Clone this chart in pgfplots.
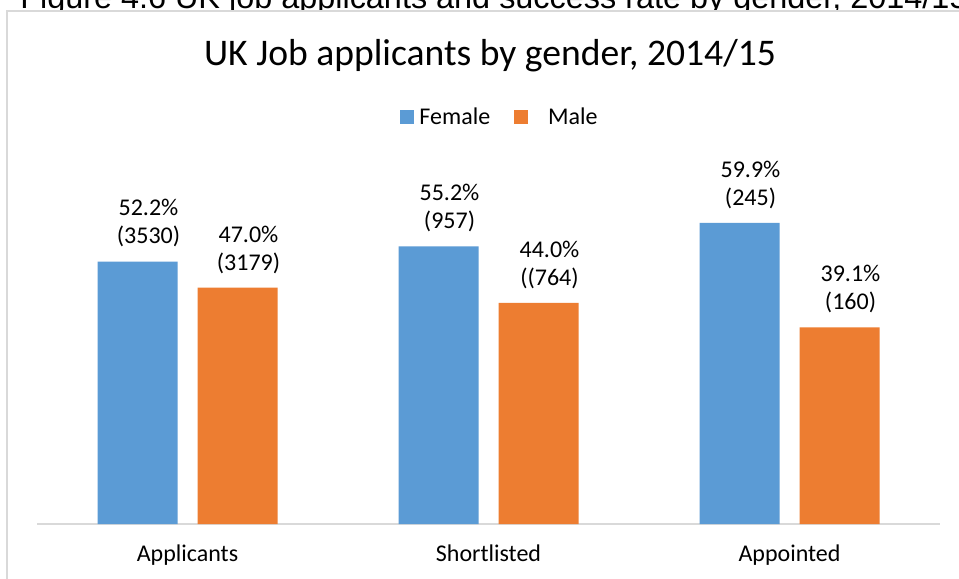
\documentclass[border=0pt]{standalone}
\usepackage{pgfplots}
\pgfplotsset{compat=1.18}
\usepackage{fontspec}
\setmainfont{Carlito}
\newfontfamily\capfont{Liberation Sans}
\definecolor{fem}{HTML}{5B9BD5}
\definecolor{mal}{HTML}{ED7D31}
\definecolor{gridg}{HTML}{D9D9D9}
\begin{document}
\begin{tikzpicture}
% caption partly cut by the page edge
\node[anchor=base west, inner sep=0pt, font=\capfont\fontsize{24.3}{28}\selectfont] at (15pt,-6pt) {Figure 4.6 UK job applicants and success rate by gender, 2014/15};
% chart area
\filldraw[fill=white, draw=gridg, line width=0.8pt] (5.25pt,-8.25pt) rectangle (740pt,-445pt);
% title
\node[anchor=base, inner sep=0pt, font=\fontsize{28.2}{32}\selectfont] at (367.5pt,-48.75pt) {UK Job applicants by gender, 2014/15};
\begin{axis}[
  at={(27.75pt,-393pt)}, anchor=south west,
  scale only axis, width=677.25pt, height=264pt,
  ymin=0, ymax=70, xmin=-0.5, xmax=2.5,
  ybar=15pt, bar width=60pt,
  axis y line=none,
  axis x line=bottom,
  x axis line style={-, draw=gridg, line width=1.3pt},
  xtick={0,1,2}, xticklabels={Applicants,Shortlisted,Appointed},
  major tick length=0pt,
  xticklabel style={font=\fontsize{18}{21}\selectfont, anchor=base, yshift=-28pt},
  nodes near coords,
  point meta=explicit symbolic,
  nodes near coords style={font=\fontsize{18}{21}\selectfont, align=center, anchor=south, inner sep=0pt, yshift=10.5pt, xshift=8.25pt},
  legend columns=2,
  legend style={draw=none, fill=none, at={(0.5145,1.156)}, anchor=center,
    font=\fontsize{18}{21}\selectfont, inner sep=0pt,
    nodes={inner xsep=4pt},
    /tikz/every even column/.append style={column sep=14pt}},
  legend image code/.code={\fill[#1] (0pt,-5.25pt) rectangle (10.5pt,5.25pt);},
]
\addplot[fill=fem, draw=none] coordinates {(0,52.2) [52.2\%\\(3530)] (1,55.2) [55.2\%\\(957)] (2,59.9) [59.9\%\\(245)]};
\addplot[fill=mal, draw=none] coordinates {(0,47.0) [47.0\%\\(3179)] (1,44.0) [44.0\%\\((764)] (2,39.1) [39.1\%\\(160)]};
\legend{Female,\hspace{11pt}Male}
\end{axis}
\pgfresetboundingbox
\useasboundingbox (0,0) rectangle (719.25pt,-433.5pt);
\end{tikzpicture}
\end{document}
